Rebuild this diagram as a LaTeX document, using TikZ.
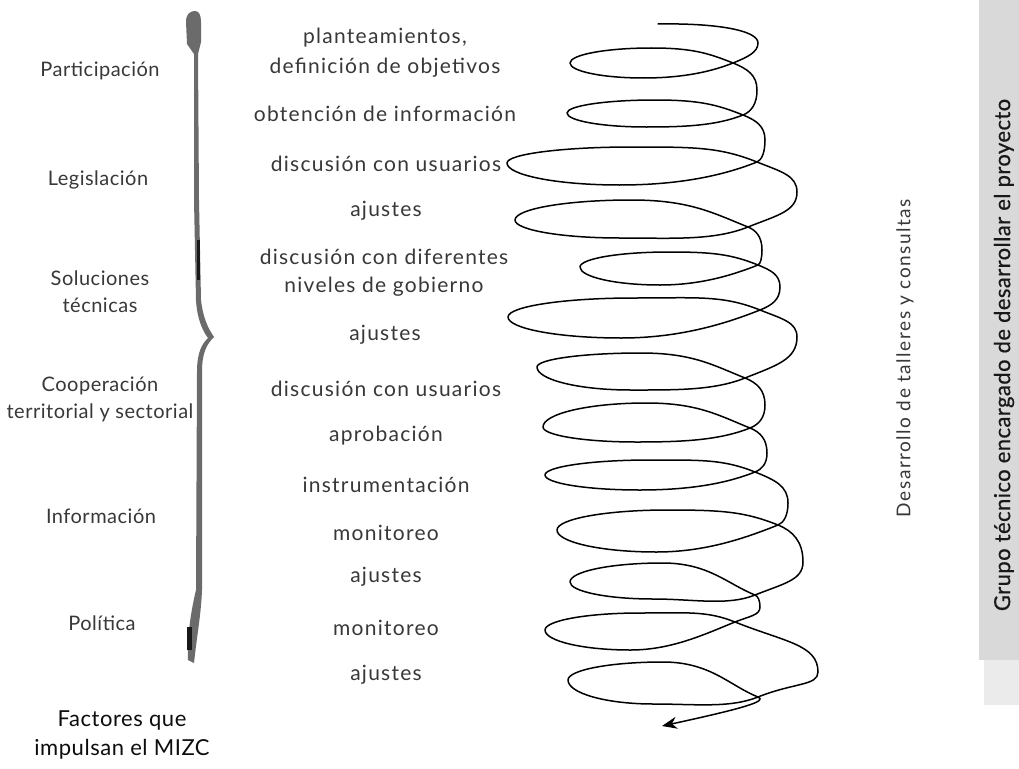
\documentclass[tikz,border=0pt]{standalone}
\usepackage{fontspec}
\setmainfont{Lato}
\newfontfamily\midfont{Lato}[LetterSpace=6]
\newfontfamily\leftfont{Lato}[LetterSpace=2.5]
\newfontfamily\sidefont{Lato}[LetterSpace=8]
\newfontfamily\grupofont{Lato}[FakeBold=0.6,LetterSpace=2]
\usetikzlibrary{arrows.meta}
% one loop of the spiral: P=(#1,#2), left end (#3,#4), top y #5, bottom y #6
\newcommand\spiralloop[6]{%
  \draw[spiral] (#1,#2)
    .. controls ({#1-0.15*(#1-#3)},{#2+0.06*(#1-#3)}) and ({#3+0.67*(#1-#3)},#6) .. ({#3+0.45*(#1-#3)},#6)
    .. controls ({#3+0.2*(#1-#3)},#6) and (#3,{#4+0.55*(#6-#4)}) .. (#3,#4)
    .. controls (#3,{#4-0.55*(#4-#5)}) and ({#3+0.22*(#1-#3)},#5) .. ({#3+0.5*(#1-#3)},#5)
    .. controls ({#3+0.75*(#1-#3)},#5) and ({#1-0.15*(#1-#3)},{#2-0.06*(#1-#3)}) .. (#1,#2);}
% outer arc from P=(#1,#2) through rightmost (#3,#4) to next P=(#5,#6)
\newcommand\spiralarc[6]{%
  \draw[spiral] (#1,#2)
    .. controls ({#1+0.6*(#3-#1)},{#2+0.24*(#3-#1)}) and (#3,{#4-0.55*(#4-#2)}) .. (#3,#4)
    .. controls (#3,{#4+0.55*(#6-#4)}) and ({#5+0.6*(#3-#5)},{#6-0.24*(#3-#5)}) .. (#5,#6);}
\begin{document}
\begin{tikzpicture}[x=1pt,y=-1pt,
  lbl/.style={font=\leftfont\fontsize{20}{27}\selectfont, text=black!78, align=center, inner sep=0pt},
  mid/.style={font=\midfont\fontsize{21}{28}\selectfont, text=black!78, align=center, inner sep=0pt},
  caption/.style={font=\leftfont\fontsize{22}{29}\selectfont, text=black!95, align=center, inner sep=0pt},
  side/.style={font=\sidefont\fontsize{19}{20}\selectfont, text=black!78, inner sep=0pt, rotate=90},
  grupo/.style={font=\grupofont\fontsize{22}{24}\selectfont, text=black!90, inner sep=0pt, rotate=90},
  spiral/.style={line width=1.5pt, black, line cap=round, line join=round},
  bracecol/.style={fill=black!58}]
\useasboundingbox (0,0) rectangle (1019,768);
\fill[white] (0,0) rectangle (1019,768);
% grey band on the right
\fill[black!15] (979,0) rectangle (1019,660);
\fill[black!8] (984,660) rectangle (1019,705);

% brace
\fill[bracecol] (186,22) .. controls (186,14) and (190,11) .. (195,11) .. controls (199,11) and (201,15) .. (201,22)
  -- (201,42) -- (198,54) -- (199,200) -- (201,300)
  .. controls (203,318) and (208,328) .. (214,337)
  .. controls (207,344) and (202,352) .. (202,372) -- (202,590)
  .. controls (201,615) and (197,635) .. (194,663) -- (188,660)
  .. controls (187,640) and (190,615) .. (196,590) -- (197,372)
  .. controls (197,352) and (202,344) .. (208,338)
  .. controls (202,330) and (197,318) .. (196,300) -- (194,200) -- (194,54) -- (187,44) -- cycle;
\fill[black!90] (197,240) rectangle (200,280);
\fill[black!90] (187,627) rectangle (192,650);

% left labels
\node[lbl] (participacion) at (100,71) {Participación};
\node[lbl] (legislacion) at (98,180) {Legislación};
\node[lbl] (soluciones) at (100,292) {Soluciones\\técnicas};
\node[lbl] (cooperacion) at (100,399) {Cooperación\\territorial y sectorial};
\node[lbl] (informacion) at (101,516) {Información};
\node[lbl] (politica) at (102,623) {Política};
\node[caption] (factores) at (122,735) {Factores que\\impulsan el MIZC};

% middle labels
\node[mid, font=\midfont\fontsize{21}{30}\selectfont] (m1) at (385,53) {planteamientos,\\definición de objetivos};
\node[mid] (m2) at (385,114) {obtención de información};
\node[mid] (m3) at (386,164) {discusión con usuarios};
\node[mid] (m4) at (386,211) {ajustes};
\node[mid] (m5) at (384,273) {discusión con diferentes\\niveles de gobierno};
\node[mid] (m6) at (385,335) {ajustes};
\node[mid] (m7) at (386,389) {discusión con usuarios};
\node[mid] (m8) at (386,436) {aprobación};
\node[mid] (m9) at (386,485) {instrumentación};
\node[mid] (m10) at (386,533) {monitoreo};
\node[mid] (m11) at (386,577) {ajustes};
\node[mid] (m12) at (386,628) {monitoreo};
\node[mid] (m13) at (386,675) {ajustes};

% right labels
\node[side] (desarrollo) at (905,358) {Desarrollo de talleres y consultas};
\node[grupo] (grupotec) at (1004,355) {Grupo técnico encargado de desarrollar el proyecto};

% spiral
\coordinate (sstart) at (658,24);
\coordinate (send) at (662,726);
\draw[spiral] (sstart) .. controls (715,23) and (758,30) .. (758,43)
  .. controls (758,52) and (748,57) .. (733,63);
\foreach \a/\b/\c/\d/\e/\f in {
  733/63/570/63/48/78, 743/115/567/113/100/127, 757/162/507/163/147/185,
  748/227/515/220/200/238, 758/265/580/267/252/285, 760/310/508/317/298/338,
  745/378/537/367/353/390, 750/428/543/427/403/442, 755/472/545/475/460/490,
  778/525/557/530/510/552, 755/595/570/582/563/599, 735/622/545/630/613/650,
  758/697/568/680/662/704}
  {\spiralloop{\a}{\b}{\c}{\d}{\e}{\f}}
\foreach \a/\b/\c/\d/\e/\f in {
  733/63/757/90/743/115, 743/115/765/140/757/162, 757/162/797/192/748/227,
  748/227/762/250/758/265, 758/265/780/287/760/310, 760/310/797/337/745/378,
  745/378/765/405/750/428, 750/428/767/453/755/472, 755/472/788/503/778/525,
  778/525/803/562/755/595, 755/595/760/607/735/622, 735/622/818/672/758/697}
  {\spiralarc{\a}{\b}{\c}{\d}{\e}{\f}}
\draw[spiral, -{Stealth[length=15pt,width=12pt]}] (758,697) .. controls (768,701) and (745,708) .. (send);
\end{tikzpicture}
\end{document}
